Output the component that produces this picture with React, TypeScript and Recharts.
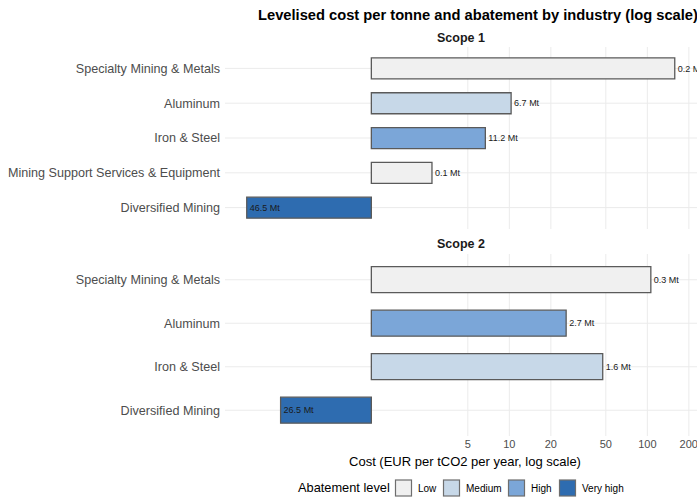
import { Bar, BarChart, CartesianGrid, Cell, LabelList, XAxis, YAxis } from "recharts";

const scope1Industries = [
  "Specialty Mining & Metals",
  "Aluminum",
  "Iron & Steel",
  "Mining Support Services & Equipment",
  "Diversified Mining",
];
const scope1Cost = [158, 10.3, 6.7, 2.75, 0.125];
const scope1Abatement = [0.2, 6.7, 11.2, 0.1, 46.5];
const scope1Level = ["Low", "Medium", "High", "Low", "Very high"];

const scope2Industries = [
  "Specialty Mining & Metals",
  "Aluminum",
  "Iron & Steel",
  "Diversified Mining",
];
const scope2Cost = [106, 25.8, 47.5, 0.22];
const scope2Abatement = [0.3, 2.7, 1.6, 26.5];
const scope2Level = ["Low", "High", "Medium", "Very high"];

const levels = ["Low", "Medium", "High", "Very high"];
const costTicks = [5, 10, 20, 50, 100, 200];

const LEVEL_COLORS: Record<string, string> = {
  Low: "#f0f0f0",
  Medium: "#c7d8e8",
  High: "#7ba6d8",
  "Very high": "#2e6cb0",
};

const BASE_COST = 1;
const COST_DOMAIN = [0.087, 229];
const FONT = '"Liberation Sans", Arial, Helvetica, sans-serif';
const W = 697;
const H = 500;

type Row = {
  industry: string;
  cost: number;
  abatement: number;
  level: string;
  span: [number, number];
};

function buildRows(names: string[], cost: number[], abate: number[], level: string[]): Row[] {
  return names.map((industry, i) => ({
    industry,
    cost: cost[i],
    abatement: abate[i],
    level: level[i],
    span: [Math.min(BASE_COST, cost[i]), Math.max(BASE_COST, cost[i])],
  }));
}

const scope1Rows = buildRows(scope1Industries, scope1Cost, scope1Abatement, scope1Level);
const scope2Rows = buildRows(scope2Industries, scope2Cost, scope2Abatement, scope2Level);

function makeLabel(rows: Row[]) {
  return (props: any) => {
    const vb = props.viewBox ?? props;
    const { x, y, width, height } = vb;
    const row = rows[props.index];
    if (!row) return null;
    const tx = row.cost < BASE_COST ? x + 3 : x + width + 3;
    return (
      <text x={tx} y={y + height / 2} dy="0.35em" fontSize={9} fill="#1a1a1a">
        {row.abatement.toFixed(1)} Mt
      </text>
    );
  };
}

// plain text tick so long names stay on one line
function IndustryTick(props: any) {
  const { x, y, payload } = props;
  return (
    <text x={x} y={y} dy="0.35em" textAnchor="end" fontSize={12.6} fill="#4d4d4d">
      {payload.value}
    </text>
  );
}

type PanelProps = {
  rows: Row[];
  top: number;
  bottom: number;
  showAxis: boolean;
};

function ScopePanel({ rows, top, bottom, showAxis }: PanelProps) {
  return (
    <div style={{ position: "absolute", left: 0, top: 0 }}>
      <BarChart
        width={W}
        height={H}
        data={rows}
        layout="vertical"
        barCategoryGap="20%"
        margin={{ top, right: 0, bottom, left: 0 }}
      >
        <CartesianGrid stroke="#ebebeb" strokeWidth={1} syncWithTicks />
        <XAxis
          type="number"
          scale="log"
          domain={COST_DOMAIN}
          allowDataOverflow
          ticks={costTicks}
          hide={!showAxis}
          height={20}
          axisLine={false}
          tickLine={false}
          tickSize={0}
          tickMargin={4}
          tick={{ fill: "#4d4d4d", fontSize: 11 }}
        />
        <YAxis
          type="category"
          dataKey="industry"
          width={225}
          axisLine={false}
          tickLine={false}
          tickSize={0}
          tickMargin={5}
          padding={{ top: 4, bottom: 4 }}
          interval={0}
          tick={<IndustryTick />}
        />
        <Bar
          dataKey="span"
          stroke="#5a5a5a"
          strokeWidth={1.3}
          isAnimationActive={false}
        >
          {rows.map((r) => (
            <Cell key={r.industry} fill={LEVEL_COLORS[r.level]} />
          ))}
          <LabelList dataKey="abatement" content={makeLabel(rows)} />
        </Bar>
      </BarChart>
    </div>
  );
}

function Overlay() {
  const legendItems = [
    { x: 395, tx: 418 },
    { x: 443, tx: 466 },
    { x: 508, tx: 531 },
    { x: 559, tx: 582 },
  ];
  return (
    <svg
      width={W}
      height={H}
      style={{ position: "absolute", left: 0, top: 0, pointerEvents: "none" }}
    >
      <text x={258} y={20} fontSize={14.7} fontWeight="bold" fill="#000">
        Levelised cost per tonne and abatement by industry (log scale)
      </text>
      <text x={461} y={41.5} fontSize={12.5} fontWeight="bold" textAnchor="middle" fill="#1a1a1a">
        Scope 1
      </text>
      <text x={461} y={248} fontSize={12.5} fontWeight="bold" textAnchor="middle" fill="#1a1a1a">
        Scope 2
      </text>
      <text x={465} y={466} fontSize={13} textAnchor="middle" fill="#000">
        Cost (EUR per tCO2 per year, log scale)
      </text>
      <text x={298} y={491.5} fontSize={12.8} fill="#000">
        Abatement level
      </text>
      {levels.map((lv, i) => (
        <g key={lv}>
          <rect
            x={legendItems[i].x + 0.5}
            y={480}
            width={16}
            height={16}
            fill={LEVEL_COLORS[lv]}
            stroke="#6e6e6e"
            strokeWidth={1.2}
          />
          <text x={legendItems[i].tx} y={491.5} fontSize={10} fill="#000">
            {lv}
          </text>
        </g>
      ))}
    </svg>
  );
}

export default function App() {
  return (
    <div
      style={{
        position: "absolute",
        left: 0,
        top: 0,
        width: W,
        height: H,
        overflow: "hidden",
        background: "#fff",
        fontFamily: FONT,
      }}
    >
      <ScopePanel rows={scope1Rows} top={47} bottom={H - 229} showAxis={false} />
      <ScopePanel rows={scope2Rows} top={254} bottom={H - 436 - 20} showAxis />
      <Overlay />
    </div>
  );
}
